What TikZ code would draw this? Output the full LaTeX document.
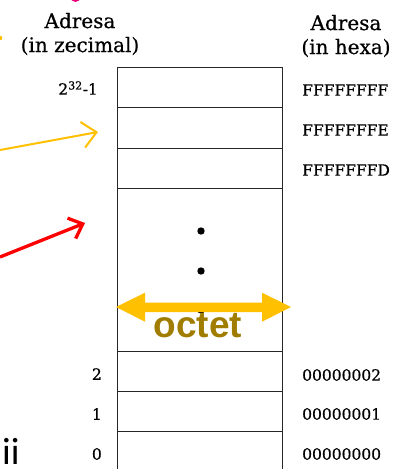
\documentclass[tikz,border=0pt]{standalone}
\usepackage{fontspec}
\setmainfont{DejaVu Serif}[UprightFeatures={FakeBold=0.6}]
\newfontfamily\labelsans{Liberation Sans}
\newfontfamily\slidesans{Carlito}
\usetikzlibrary{arrows.meta}
\definecolor{gold}{HTML}{FFC000}
\definecolor{darkgold}{HTML}{A07C00}
\definecolor{pinkmark}{HTML}{E8007D}
\tikzset{
  cell/.style={draw=black!85, line width=1.4pt, minimum width=165pt, inner sep=0pt, anchor=north west},
  head/.style={font=\fontsize{20}{24}\selectfont, align=center, inner sep=0pt},
  addr/.style={font=\fontsize{15.5}{18}\selectfont, inner sep=0pt},
  dec/.style={addr, anchor=east},
  hex/.style={addr, anchor=west},
  dotmark/.style={fill=black, draw=none},
}
\begin{document}
\begin{tikzpicture}[x=1pt,y=-1pt]
\useasboundingbox (0,0) rectangle (412,469);
\fill[white] (0,0) rectangle (412,469);

% fragments at the edges
\fill[pinkmark] (75.5,-3) ellipse (5 and 5);
\fill[gold] (0,38) circle (2.3);

% column headings
\node[head] (hdec) at (80,34) {Adresa\\(in zecimal)};
\node[head] (hhex) at (346,36) {Adresa\\(in hexa)};

% memory cells
\node[cell, minimum height=40pt] (c1) at (117,67) {};
\node[cell, minimum height=40.5pt] (c2) at (117,107) {};
\node[cell, minimum height=40.5pt] (c3) at (117,147.5) {};
\node[cell, minimum height=163pt] (cmid) at (117,188) {};
\node[cell, minimum height=40pt] (r2) at (117,351) {};
\node[cell, minimum height=40pt] (r1) at (117,391) {};
\node[cell, minimum height=42pt] (r0) at (117,431) {};

% vertical ellipsis
\fill[dotmark] (201,231) circle (3.7);
\fill[dotmark] (201,271) circle (3.7);
\fill[dotmark] (201,310) circle (3.7);

% byte width arrow
\fill[gold] (116,307) -- (145,292.7) -- (145,302.5) -- (262,302.5) -- (262,292.7)
  -- (291,307) -- (262,321.7) -- (262,312) -- (145,312) -- (145,321.7) -- cycle;
\node[font=\labelsans\bfseries\fontsize{37}{40}\selectfont, text=darkgold, anchor=base, inner sep=0pt]
  (octet) at (198,337) {octet};

% decimal addresses
\node[dec] (d1) at (98,88) {2\textsuperscript{\fontsize{11}{12}\selectfont 32}-1};
\node[dec] (d2) at (102,374) {2};
\node[dec] (dd1) at (102,414) {1};
\node[dec] (d0) at (102,454) {0};

% hexadecimal addresses
\node[hex] (h1) at (302,90) {FFFFFFFF};
\node[hex] (h2) at (302,130) {FFFFFFFE};
\node[hex] (h3) at (302,170) {FFFFFFFD};
\node[hex] (h4) at (302,375) {00000002};
\node[hex] (h5) at (302,414) {00000001};
\node[hex] (h6) at (302,454) {00000000};

% pointers coming in from the left
\coordinate (ysrc) at (0,150);
\coordinate (ytip) at (98,132);
\coordinate (rsrc) at (0,257);
\coordinate (rtip) at (85,223);
\draw[gold, line width=2pt, -{Straight Barb[length=14pt,width=26pt]}] (ysrc) -- (ytip);
\draw[red, line width=3.3pt, -{Straight Barb[length=12pt,width=22pt]}] (rsrc) -- (rtip);

% text cut at the lower edge
\node[font=\slidesans\fontsize{38}{40}\selectfont, anchor=base west, inner sep=0pt] (frag) at (2,464) {ii};
\end{tikzpicture}
\end{document}
